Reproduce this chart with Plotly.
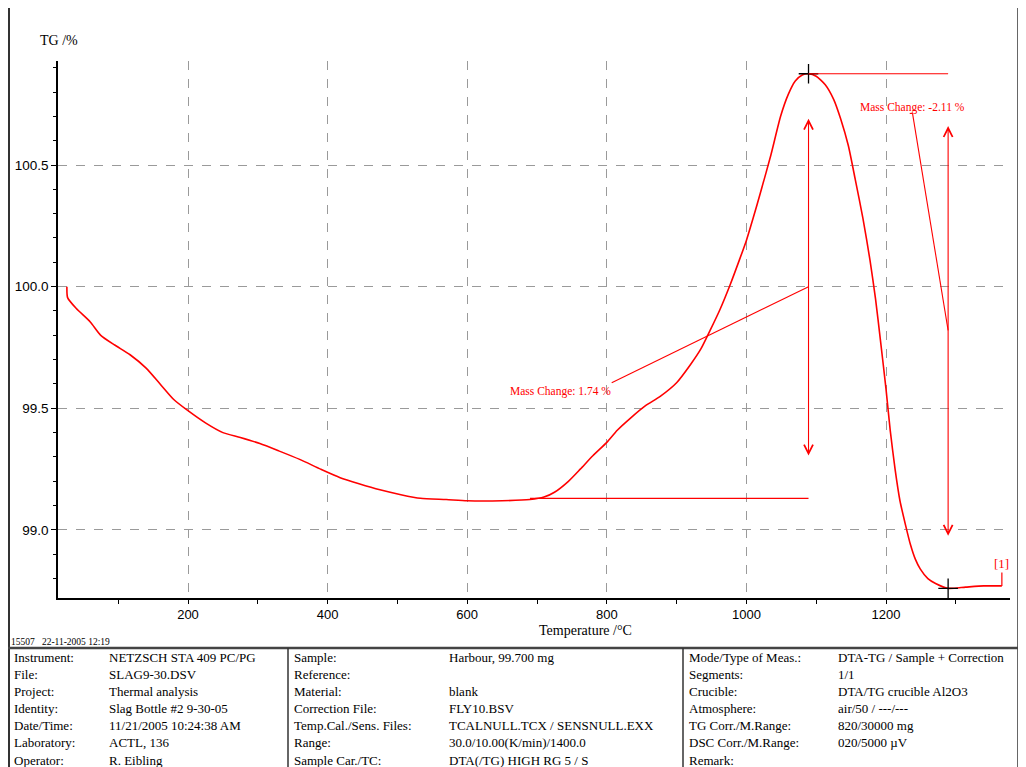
import plotly.graph_objects as go

# ---------------- data ----------------
temp_c = [26.5, 27.5, 40, 60, 75, 95, 117, 140, 160, 180, 200, 225, 250, 275, 303, 330, 360, 390,
          418, 445, 475, 505, 533, 570, 600, 650, 690, 710, 725, 745, 762, 780, 800, 815, 834,
          855, 877, 900, 920, 935, 948, 962, 977, 990, 1000, 1010, 1020, 1035, 1049, 1060, 1070,
          1080, 1089, 1100, 1113, 1125, 1135, 1146, 1156, 1167, 1177, 1185, 1192, 1200, 1206,
          1213, 1220, 1228, 1235, 1242, 1249, 1260, 1271, 1289, 1314, 1340, 1366]
tg_pct = [100.00, 99.955, 99.91, 99.855, 99.80, 99.76, 99.72, 99.665, 99.60, 99.535, 99.49, 99.44,
          99.40, 99.38, 99.355, 99.325, 99.29, 99.25, 99.215, 99.19, 99.165, 99.145, 99.13, 99.125,
          99.12, 99.12, 99.125, 99.135, 99.155, 99.20, 99.25, 99.305, 99.36, 99.41, 99.46, 99.51,
          99.55, 99.605, 99.68, 99.745, 99.82, 99.905, 100.01, 100.11, 100.19, 100.285, 100.385,
          100.54, 100.70, 100.79, 100.845, 100.87, 100.875, 100.865, 100.83, 100.77, 100.69, 100.58,
          100.44, 100.28, 100.11, 99.95, 99.78, 99.58, 99.41, 99.25, 99.12, 99.02, 98.94, 98.88,
          98.84, 98.80, 98.78, 98.76, 98.765, 98.77, 98.77]

# mass-change evaluation points
base_start_t = 690
peak_t, peak_tg = 1089, 100.875
low_t, low_tg = 1289, 98.76
base_tg = 99.13
mass_change_1 = 1.74
mass_change_2 = -2.11

x_ticks = [200, 400, 600, 800, 1000, 1200]
y_ticks = [99.0, 99.5, 100.0, 100.5]

table_rows = [
    ("Instrument:", "NETZSCH STA 409 PC/PG", "Sample:", "Harbour, 99.700 mg", "Mode/Type of Meas.:", "DTA-TG / Sample + Correction"),
    ("File:", "SLAG9-30.DSV", "Reference:", "", "Segments:", "1/1"),
    ("Project:", "Thermal analysis", "Material:", "blank", "Crucible:", "DTA/TG crucible Al2O3"),
    ("Identity:", "Slag Bottle #2 9-30-05", "Correction File:", "FLY10.BSV", "Atmosphere:", "air/50 / ---/---"),
    ("Date/Time:", "11/21/2005 10:24:38 AM", "Temp.Cal./Sens. Files:", "TCALNULL.TCX / SENSNULL.EXX", "TG Corr./M.Range:", "820/30000 mg"),
    ("Laboratory:", "ACTL, 136", "Range:", "30.0/10.00(K/min)/1400.0", "DSC Corr./M.Range:", "020/5000 µV"),
    ("Operator:", "R. Eibling", "Sample Car./TC:", "DTA(/TG) HIGH RG 5 / S", "Remark:", ""),
]
footer_id = "15507   22-11-2005 12:19"

# ---------------- layout geometry (screen pixels; page body adds an 8px offset) ----------------
OFF = 8
W, H = 1026 - OFF, 767 - OFF
PL, PR, PT, PB = 58, 1010, 61, 598          # plot area in screen pixels
ML, MR, MT, MB = PL - OFF, W - (PR - OFF), PT - OFF, H - (PB - OFF)
PW, PH = PR - PL, PB - PT


def px(x):
    return (x - PL) / PW


def py(y):
    return (PB - y) / PH


RED = "#ff0000"
SERIF = "Liberation Serif"
SANS = "Liberation Sans"

fig = go.Figure()
fig.add_trace(go.Scatter(x=temp_c, y=tg_pct, mode="lines", line_shape="spline",
                         line=dict(color=RED, width=1.6, smoothing=0.6), showlegend=False, hoverinfo="skip"))
fig.add_trace(go.Scatter(x=[peak_t, low_t], y=[peak_tg, low_tg], mode="markers",
                         marker=dict(symbol="cross-thin", size=14, line=dict(color="black", width=1.3)),
                         showlegend=False, hoverinfo="skip"))

shapes = []
annotations = []

# baseline / peak horizontal lines
shapes.append(dict(type="line", xref="x", yref="y", x0=base_start_t, x1=peak_t, y0=base_tg, y1=base_tg,
                   line=dict(color=RED, width=1.2)))
shapes.append(dict(type="line", xref="x", yref="y", x0=peak_t, x1=low_t, y0=peak_tg, y1=peak_tg,
                   line=dict(color=RED, width=1.2)))

# vertical double arrows
for xa, ytop, ybot in [(peak_t, 100.69, 99.30), (low_t, 100.66, 98.97)]:
    annotations.append(dict(x=xa, y=ytop, ax=xa, ay=ybot, xref="x", yref="y", axref="x", ayref="y",
                            text="", showarrow=True, arrowside="end+start", arrowhead=5, startarrowhead=5,
                            arrowsize=1.6, startarrowsize=1.6, arrowwidth=1.1, arrowcolor=RED))

# pointer lines to labels
mid1 = base_tg + mass_change_1 / 2
mid2 = peak_tg + mass_change_2 / 2
shapes.append(dict(type="line", xref="x", yref="y", x0=peak_t, y0=mid1, x1=807, y1=99.605,
                   line=dict(color=RED, width=1.1)))
shapes.append(dict(type="line", xref="x", yref="y", x0=low_t, y0=mid2, x1=1238, y1=100.712,
                   line=dict(color=RED, width=1.1)))
shapes.append(dict(type="line", xref="x", yref="y", x0=1238, y0=100.712, x1=1234, y1=100.712,
                   line=dict(color=RED, width=1.1)))

annotations.append(dict(x=734, y=99.568, xref="x", yref="y", showarrow=False,
                        xanchor="center", yanchor="middle",
                        text=f"Mass Change: {mass_change_1:.2f} %",
                        font=dict(family=SERIF, size=11.5, color=RED)))
annotations.append(dict(x=1238, y=100.738, xref="x", yref="y", showarrow=False,
                        xanchor="center", yanchor="middle",
                        text=f"Mass Change: {mass_change_2:.2f} %",
                        font=dict(family=SERIF, size=11.5, color=RED)))

# curve label [1]
shapes.append(dict(type="line", xref="x", yref="y", x0=temp_c[-1], y0=tg_pct[-1], x1=temp_c[-1], y1=98.825,
                   line=dict(color=RED, width=1.2)))
annotations.append(dict(x=temp_c[-1], y=98.825, xref="x", yref="y", showarrow=False,
                        xanchor="center", yanchor="bottom",
                        text="[1]", font=dict(family=SERIF, size=13, color=RED)))

# axis titles
annotations.append(dict(x=px(38), y=py(40), xref="paper", yref="paper", xanchor="left", yanchor="middle",
                        showarrow=False, text="TG /%", font=dict(family=SERIF, size=14, color="black")))
annotations.append(dict(x=px(585), y=py(630), xref="paper", yref="paper", xanchor="center", yanchor="middle",
                        showarrow=False, text="Temperature /°C", font=dict(family=SERIF, size=14, color="black")))


# outer frame & table lines
def pline(x0, y0, x1, y1, color="#333333", width=1.5):
    shapes.append(dict(type="line", xref="paper", yref="paper", x0=px(x0), y0=py(y0), x1=px(x1), y1=py(y1),
                       line=dict(color=color, width=width)))


pline(8.5, 4, 1018, 4)
pline(9, 4, 9, 767, width=2)
pline(1018, 4, 1018, 767)
pline(8, 648, 1018, 648, color="#444444", width=2.5)
pline(288, 648, 288, 767)
pline(683, 648, 683, 767)

annotations.append(dict(x=px(9), y=py(642), xref="paper", yref="paper", xanchor="left", yanchor="middle",
                        showarrow=False, text=footer_id, font=dict(family=SERIF, size=9.5, color="black")))

col_x = [12, 107, 292, 447, 687, 836]
row_y0, row_dy = 657, 17.2
for i, row in enumerate(table_rows):
    for cx, txt in zip(col_x, row):
        if not txt:
            continue
        annotations.append(dict(x=px(cx), y=py(row_y0 + i * row_dy), xref="paper", yref="paper",
                                xanchor="left", yanchor="middle", showarrow=False, text=txt,
                                font=dict(family=SERIF, size=13, color="black")))

x_left = 200 - (188 - PL) / 0.698
x_right = x_left + PW / 0.698
y_top = 100.5 + (165 - PT) / 243.3
y_bot = y_top - PH / 243.3

fig.update_layout(
    width=W, height=H, margin=dict(l=ML, r=MR, t=MT, b=MB, autoexpand=False),
    paper_bgcolor="white", plot_bgcolor="white", showlegend=False,
    shapes=shapes, annotations=annotations,
    xaxis=dict(range=[x_left, x_right], tickvals=x_ticks, ticktext=[str(v) for v in x_ticks],
               showgrid=True, gridcolor="#9a9a9a", griddash="dash", gridwidth=1,
               showline=True, linecolor="black", linewidth=1.5, mirror=False, zeroline=False,
               ticks="outside", ticklen=4, tickcolor="black",
               minor=dict(dtick=100, tick0=0, ticks="outside", ticklen=4, tickcolor="black", showgrid=False),
               tickfont=dict(family=SANS, size=13, color="black")),
    yaxis=dict(range=[y_bot, y_top], tickvals=y_ticks, ticktext=[f"{v:.1f}" for v in y_ticks],
               showgrid=True, gridcolor="#9a9a9a", griddash="dash", gridwidth=1,
               showline=True, linecolor="black", linewidth=1.5, mirror=False, zeroline=False,
               ticks="outside", ticklen=5, tickcolor="black",
               minor=dict(dtick=0.1, tick0=0, ticks="outside", ticklen=3, tickcolor="black", showgrid=False),
               tickfont=dict(family=SANS, size=13.5, color="black")),
)

fig.write_html("out.html")
